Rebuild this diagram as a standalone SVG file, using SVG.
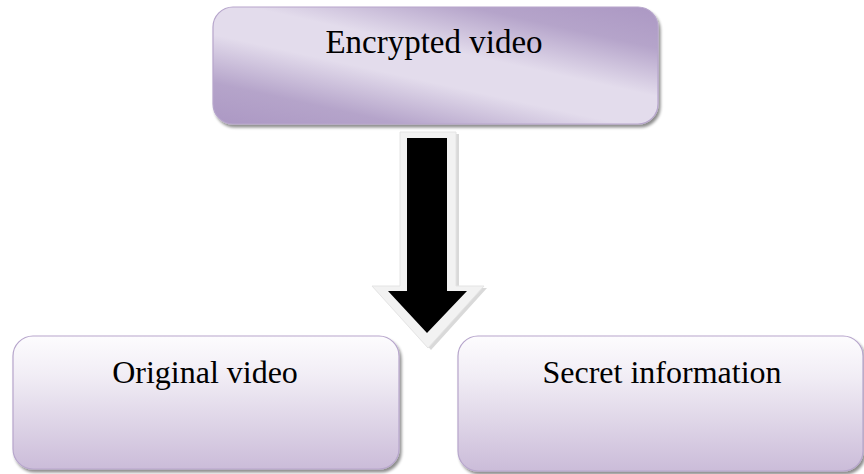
<svg xmlns="http://www.w3.org/2000/svg" width="864" height="474" viewBox="0 0 864 474">
  <defs>
    <linearGradient id="gradTop" gradientUnits="userSpaceOnUse" x1="410" y1="170" x2="456" y2="-40">
      <stop offset="0" stop-color="#ab97c3"/>
      <stop offset="0.2" stop-color="#b5a4ca"/>
      <stop offset="0.42" stop-color="#e3dcec"/>
      <stop offset="0.58" stop-color="#e3dcec"/>
      <stop offset="0.8" stop-color="#b5a4ca"/>
      <stop offset="1" stop-color="#ab97c3"/>
    </linearGradient>
    <linearGradient id="gradBottom" x1="0" y1="0" x2="0" y2="1">
      <stop offset="0" stop-color="#fdfcfe"/>
      <stop offset="0.3" stop-color="#f1edf5"/>
      <stop offset="1" stop-color="#cbbcd9"/>
    </linearGradient>
    <filter id="shadow" x="-5%" y="-5%" width="112%" height="120%">
      <feGaussianBlur in="SourceAlpha" stdDeviation="1.5"/>
      <feOffset dx="2" dy="3" result="b"/>
      <feComponentTransfer><feFuncA type="linear" slope="0.45"/></feComponentTransfer>
      <feMerge><feMergeNode/><feMergeNode in="SourceGraphic"/></feMerge>
    </filter>
  </defs>
  <style>
    .box { stroke: #b7a6cc; stroke-width: 1.2; filter: url(#shadow); }
    .label { font-family: "Liberation Serif", "Times New Roman", serif; font-size: 32px; fill: #000; text-anchor: middle; }
  </style>
  <rect width="864" height="474" fill="#ffffff"/>

  <g id="connectors">
    <!-- block arrow: light outline with soft shadow, black body -->
    <path d="M400,132 L456,132 L456,286 L484,286 L428,348 L372,286 L400,286 Z" fill="#cfcfcf" transform="translate(3,2)" opacity="0.8"/>
    <path d="M400,132 L456,132 L456,286 L484,286 L428,348 L372,286 L400,286 Z" fill="#f2f2f2" stroke="#e4e4e4" stroke-width="1"/>
    <path d="M407,138 L447,138 L447,291 L467,291 L427,333 L388,291 L407,291 Z" fill="#000000"/>
  </g>

  <g id="node-encrypted">
    <rect class="box" x="213" y="7" width="445" height="117" rx="20" ry="20" fill="url(#gradTop)" stroke="#ad9bc4"/>
    <text class="label" x="434" y="53" style="font-size:33px">Encrypted video</text>
  </g>

  <g id="node-original">
    <rect class="box" x="13" y="336" width="386" height="133" rx="20" ry="20" fill="url(#gradBottom)"/>
    <text class="label" x="205" y="383">Original video</text>
  </g>

  <g id="node-secret">
    <rect class="box" x="458" y="336" width="405" height="135" rx="20" ry="20" fill="url(#gradBottom)"/>
    <text class="label" x="662" y="383">Secret information</text>
  </g>
</svg>
